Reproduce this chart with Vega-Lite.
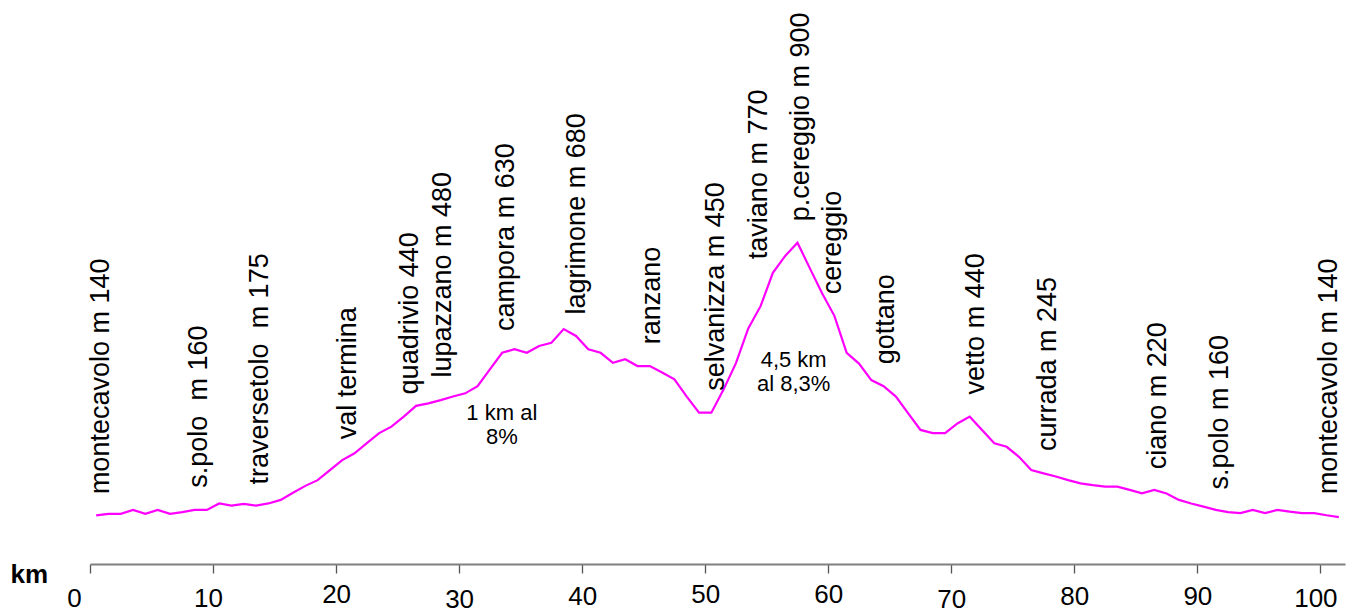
{
  "$schema": "https://vega.github.io/schema/vega-lite/v6.json",
  "width": 1255,
  "height": 564,
  "autosize": {"type": "none"},
  "padding": {"left": 90, "right": 10, "top": 0, "bottom": 50},
  "background": "white",
  "config": {"view": {"stroke": null}, "font": "Liberation Sans"},
  "layer": [
    {
      "data": {"values": [
        {"km":0.5,"m":140},{"km":1.5,"m":144},{"km":2.5,"m":144},{"km":3.5,"m":155},{"km":4.5,"m":144},
        {"km":5.5,"m":155},{"km":6.5,"m":144},{"km":7.5,"m":149},{"km":8.5,"m":155},{"km":9.5,"m":155},
        {"km":10.5,"m":173},{"km":11.5,"m":167},{"km":12.5,"m":172},{"km":13.5,"m":167},{"km":14.5,"m":173},
        {"km":15.5,"m":183},{"km":16.5,"m":203},{"km":17.5,"m":222},{"km":18.5,"m":238},{"km":19.5,"m":266},
        {"km":20.5,"m":294},{"km":21.5,"m":313},{"km":22.5,"m":341},{"km":23.5,"m":369},{"km":24.5,"m":387},
        {"km":25.5,"m":415},{"km":26.5,"m":445},{"km":27.5,"m":452},{"km":28.5,"m":461},{"km":29.5,"m":471},
        {"km":30.5,"m":480},{"km":31.5,"m":500},{"km":32.5,"m":547},{"km":33.5,"m":593},{"km":34.5,"m":603},
        {"km":35.5,"m":593},{"km":36.5,"m":612},{"km":37.5,"m":621},{"km":38.5,"m":659},{"km":39.5,"m":640},
        {"km":40.5,"m":603},{"km":41.5,"m":593},{"km":42.5,"m":565},{"km":43.5,"m":575},{"km":44.5,"m":556},
        {"km":45.5,"m":556},{"km":46.5,"m":538},{"km":47.5,"m":519},{"km":48.5,"m":471},{"km":49.5,"m":426},
        {"km":50.5,"m":426},{"km":51.5,"m":491},{"km":52.5,"m":564},{"km":53.5,"m":661},{"km":54.5,"m":723},
        {"km":55.5,"m":816},{"km":56.5,"m":863},{"km":57.5,"m":900},{"km":58.5,"m":829},{"km":59.5,"m":759},
        {"km":60.5,"m":696},{"km":61.5,"m":593},{"km":62.5,"m":563},{"km":63.5,"m":517},{"km":64.5,"m":500},
        {"km":65.5,"m":471},{"km":66.5,"m":424},{"km":67.5,"m":378},{"km":68.5,"m":369},{"km":69.5,"m":369},
        {"km":70.5,"m":396},{"km":71.5,"m":415},{"km":72.5,"m":378},{"km":73.5,"m":341},{"km":74.5,"m":331},
        {"km":75.5,"m":303},{"km":76.5,"m":266},{"km":77.5,"m":257},{"km":78.5,"m":248},{"km":79.5,"m":238},
        {"km":80.5,"m":229},{"km":81.5,"m":224},{"km":82.5,"m":220},{"km":83.5,"m":220},{"km":84.5,"m":211},
        {"km":85.5,"m":201},{"km":86.5,"m":211},{"km":87.5,"m":201},{"km":88.5,"m":183},{"km":89.5,"m":173},
        {"km":90.5,"m":164},{"km":91.5,"m":155},{"km":92.5,"m":149},{"km":93.5,"m":146},{"km":94.5,"m":155},
        {"km":95.5,"m":146},{"km":96.5,"m":155},{"km":97.5,"m":150},{"km":98.5,"m":146},{"km":99.5,"m":146},
        {"km":100.5,"m":140},{"km":101.5,"m":135}
      ]},
      "mark": {"type": "line", "color": "#FF00FF", "strokeWidth": 2.2, "strokeJoin": "miter", "clip": false},
      "encoding": {
        "x": {
          "field": "km", "type": "quantitative",
          "scale": {"domain": [0, 102], "nice": false, "zero": false},
          "axis": {
            "values": [0, 10, 20, 30, 40, 50, 60, 70, 80, 90, 100],
            "grid": false,
            "domainColor": "#808080",
            "domainWidth": 2,
            "tickColor": "#555555",
            "tickWidth": 1.3,
            "tickSize": 9,
            "labelFont": "Liberation Sans",
            "labelFontSize": 26,
            "labelColor": "#000000",
            "labelPadding": {"condition": [
              {"test": "datum.value === 20 || datum.value === 50 || datum.value === 60", "value": 8},
              {"test": "datum.value === 40 || datum.value === 80 || datum.value === 90", "value": 10},
              {"test": "datum.value === 30 || datum.value === 70", "value": 13}
            ], "value": 12},
            "labelOffset": {"condition": [
              {"test": "datum.value === 0", "value": -16},
              {"test": "datum.value === 10 || datum.value === 100", "value": -5}
            ], "value": 0},
            "labelFlush": false,
            "labelOverlap": false,
            "title": "km",
            "titleFont": "Liberation Sans",
            "titleFontSize": 26,
            "titleFontWeight": "bold",
            "titleColor": "#000000",
            "titleAngle": 0,
            "titleAlign": "left",
            "titleBaseline": "alphabetic",
            "titleAnchor": "start",
            "titleX": -80,
            "titleY": 18
          }
        },
        "y": {
          "field": "m", "type": "quantitative",
          "scale": {"domain": [4.2, 1576.5], "nice": false, "zero": false},
          "axis": null
        }
      }
    },
    {
      "data": {"values": [
        {"km": 1.53, "m": 199, "label": "montecavolo m 140"},
        {"km": 9.52, "m": 217, "label": "s.polo\u00a0 m 160"},
        {"km": 14.50, "m": 226, "label": "traversetolo\u00a0 m 175"},
        {"km": 21.62, "m": 352, "label": "val termina"},
        {"km": 26.63, "m": 477, "label": "quadrivio 440"},
        {"km": 29.34, "m": 524, "label": "lupazzano m 480"},
        {"km": 34.48, "m": 654, "label": "campora m 630"},
        {"km": 40.25, "m": 700, "label": "lagrimone m 680"},
        {"km": 46.30, "m": 617, "label": "ranzano"},
        {"km": 51.54, "m": 487, "label": "selvanizza m 450"},
        {"km": 55.06, "m": 854, "label": "taviano m 770"},
        {"km": 58.45, "m": 960, "label": "p.cereggio m 900"},
        {"km": 61.01, "m": 756, "label": "cereggio"},
        {"km": 65.34, "m": 561, "label": "gottano"},
        {"km": 72.66, "m": 477, "label": "vetto m 440"},
        {"km": 78.54, "m": 319, "label": "currada m 245"},
        {"km": 87.42, "m": 268, "label": "ciano m 220"},
        {"km": 92.51, "m": 212, "label": "s.polo m 160"},
        {"km": 101.36, "m": 199, "label": "montecavolo m 140"}
      ]},
      "mark": {"type": "text", "angle": 270, "align": "left", "baseline": "alphabetic", "font": "Liberation Sans", "fontSize": 27, "color": "#000000", "clip": false},
      "encoding": {
        "x": {"field": "km", "type": "quantitative"},
        "y": {"field": "m", "type": "quantitative"},
        "text": {"field": "label"}
      }
    },
    {
      "data": {"values": [
        {"km": 33.47, "m": 454, "note": "1 km al\n8%"},
        {"km": 57.19, "m": 600, "note": "4,5 km\nal 8,3%"}
      ]},
      "mark": {"type": "text", "align": "center", "baseline": "top", "font": "Liberation Sans", "fontSize": 22, "lineBreak": "\n", "lineHeight": 24, "color": "#000000", "clip": false},
      "encoding": {
        "x": {"field": "km", "type": "quantitative"},
        "y": {"field": "m", "type": "quantitative"},
        "text": {"field": "note"}
      }
    }
  ]
}
